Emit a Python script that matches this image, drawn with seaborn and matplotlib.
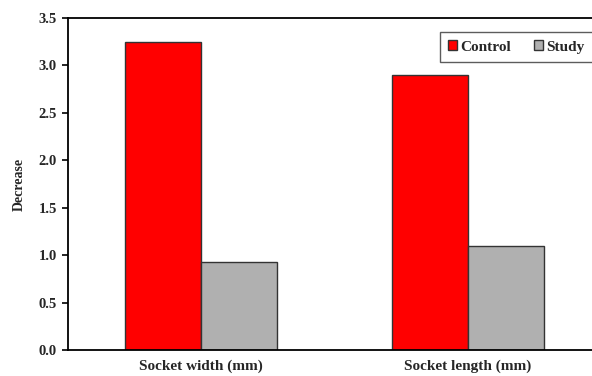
import pandas as pd
import matplotlib.pyplot as plt
import seaborn as sns

# Chart data
categories = ['Socket width (mm)', 'Socket length (mm)']
groups = ['Control', 'Study']
control_vals = [3.25, 2.90]
study_vals = [0.93, 1.10]
y_ticks = [0.0, 0.5, 1.0, 1.5, 2.0, 2.5, 3.0, 3.5]

df = pd.DataFrame({
    'Category': categories * 2,
    'Group': [groups[0]] * 2 + [groups[1]] * 2,
    'Decrease': control_vals + study_vals,
})

sns.set_style('white')
plt.rcParams['font.family'] = ['Liberation Serif', 'DejaVu Serif']
plt.rcParams['font.weight'] = 'bold'

fig = plt.figure(figsize=(5.92, 3.76), dpi=100)
ax = fig.add_axes([68 / 592, 26 / 376, 533 / 592, 332 / 376])

sns.barplot(data=df, x='Category', y='Decrease', hue='Group',
            palette={'Control': '#ff0000', 'Study': '#b0b0b0'},
            width=0.572, edgecolor='#333333', linewidth=1.0,
            saturation=1, ax=ax)

ax.set_xlim(-0.5, 1.5)
ax.set_ylim(0, 3.5)
ax.set_yticks(y_ticks)
ax.set_yticklabels([f'{v:.1f}' for v in y_ticks], fontsize=10.5, fontweight='bold')
ax.set_xticks(range(len(categories)))
ax.set_xticklabels(categories, fontsize=11, fontweight='bold')
ax.set_xticks([0.5], minor=True)
ax.tick_params(axis='x', which='major', length=0, pad=7)
ax.tick_params(axis='x', which='minor', length=4, width=1.2, direction='out', color='black')
ax.tick_params(axis='y', length=4, width=1.2, direction='out', left=True, color='black', pad=4)
ax.set_xlabel('')
ax.set_ylabel('Decrease', fontsize=10, fontweight='bold', labelpad=9)

for side in ['left', 'bottom', 'top']:
    ax.spines[side].set_color('black')
    ax.spines[side].set_linewidth(1.3)
ax.spines['right'].set_visible(False)

leg = ax.legend(loc='upper right', bbox_to_anchor=(0.985, 0.958), ncol=2,
                frameon=True, fancybox=False, fontsize=11, handlelength=0.6,
                handleheight=0.6, handletextpad=0.2, columnspacing=1.5,
                borderpad=0.55, borderaxespad=0, title=None)
leg.get_frame().set_edgecolor('#333333')
leg.get_frame().set_linewidth(1.0)
for t in leg.get_texts():
    t.set_fontweight('bold')

fig.savefig('out.png', dpi=100)
